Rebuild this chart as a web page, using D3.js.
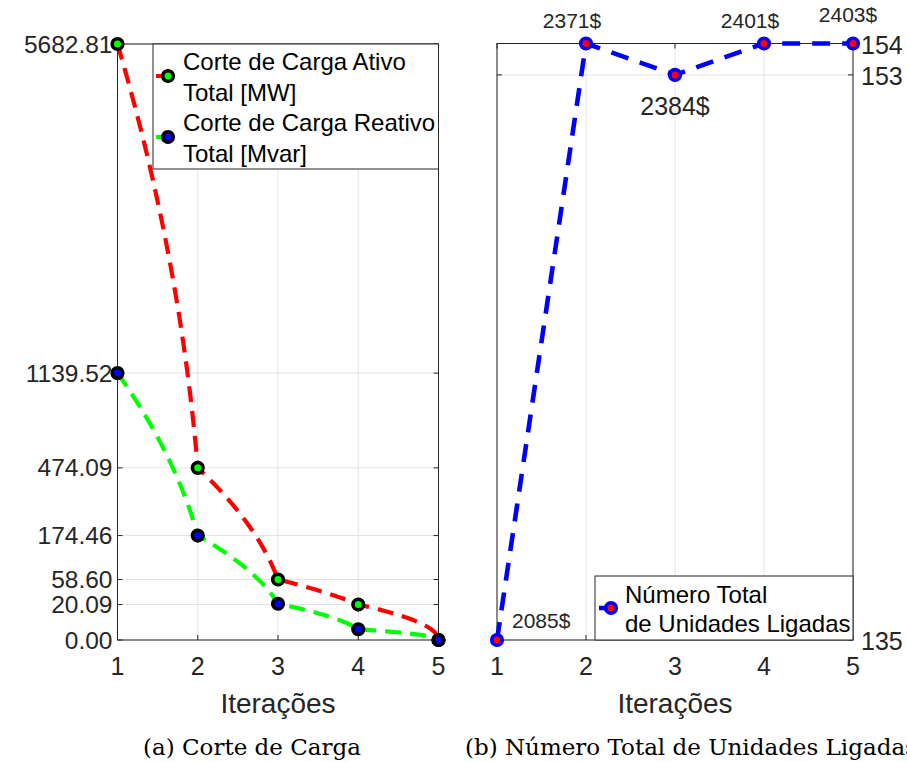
<!DOCTYPE html>
<html>
<head>
<meta charset="utf-8">
<script src="https://cdn.jsdelivr.net/npm/d3@7"></script>
<style>
  html, body { margin: 0; padding: 0; background: #ffffff; }
  svg { display: block; }
  text { font-family: "Liberation Sans", Arial, Helvetica, sans-serif; }
  .caption { font-family: "DejaVu Serif", "Liberation Serif", serif; }
</style>
</head>
<body>
<svg id="chart" width="907" height="762"></svg>
<script>
// Iteration index shared by both panels
const iterations = [1, 2, 3, 4, 5];

// (a) load shedding per iteration
const activeShed = [5682.81, 474.09, 58.60, 20.09, 0.00];     // MW
const reactiveShed = [1139.52, 174.46, 21.0, 1.85, 0.00];     // Mvar
const shedTicks = [0.00, 20.09, 58.60, 174.46, 474.09, 1139.52, 5682.81];

// (b) committed units per iteration and associated cost
const unitsOn = [135, 154, 153, 154, 154];
const costLabels = ["2085$", "2371$", "2384$", "2401$", "2403$"];
const unitTicks = [135, 153, 154];

const svg = d3.select("#chart");
const axisColor = "#262626";
const gridColor = "#e3e3e3";
const tickLen = 5;

// Draw a data-space linear path through a (possibly non-linear) y scale
function sampledLine(xs, ys, x, y, steps) {
  const pts = [];
  for (let i = 0; i < xs.length - 1; i++) {
    for (let k = 0; k <= steps; k++) {
      if (i > 0 && k === 0) continue;
      const t = k / steps;
      const xv = xs[i] + (xs[i + 1] - xs[i]) * t;
      const yv = ys[i] + (ys[i + 1] - ys[i]) * t;
      pts.push([x(xv), y(yv)]);
    }
  }
  return d3.line()(pts);
}

function frame(g, x, y, xTicks, yTicks) {
  const [x0, x1] = x.range();
  const [yb, yt] = y.range();
  // grid
  g.append("g").selectAll("line").data(xTicks).join("line")
    .attr("x1", d => x(d)).attr("x2", d => x(d))
    .attr("y1", yb).attr("y2", yt)
    .attr("stroke", gridColor).attr("stroke-width", 1);
  g.append("g").selectAll("line").data(yTicks).join("line")
    .attr("x1", x0).attr("x2", x1)
    .attr("y1", d => y(d)).attr("y2", d => y(d))
    .attr("stroke", gridColor).attr("stroke-width", 1);
  // inward ticks on all four sides
  const t = g.append("g").attr("stroke", axisColor).attr("stroke-width", 1);
  xTicks.forEach(d => {
    t.append("line").attr("x1", x(d)).attr("x2", x(d)).attr("y1", yb).attr("y2", yb - tickLen);
    t.append("line").attr("x1", x(d)).attr("x2", x(d)).attr("y1", yt).attr("y2", yt + tickLen);
  });
  yTicks.forEach(d => {
    t.append("line").attr("x1", x0).attr("x2", x0 + tickLen).attr("y1", y(d)).attr("y2", y(d));
    t.append("line").attr("x1", x1).attr("x2", x1 - tickLen).attr("y1", y(d)).attr("y2", y(d));
  });
  // box
  g.append("rect")
    .attr("x", x0).attr("y", yt).attr("width", x1 - x0).attr("height", yb - yt)
    .attr("fill", "none").attr("stroke", axisColor).attr("stroke-width", 1);
  // x tick labels
  g.append("g").selectAll("text").data(xTicks).join("text")
    .attr("x", d => x(d)).attr("y", yb + 35)
    .attr("text-anchor", "middle")
    .attr("font-size", 25).attr("fill", axisColor)
    .text(d => d);
  g.append("text")
    .attr("x", (x0 + x1) / 2).attr("y", yb + 73)
    .attr("text-anchor", "middle")
    .attr("font-size", 28).attr("fill", axisColor)
    .text("Iterações");
}

function marker(g, cx, cy, fill, stroke) {
  g.append("circle").attr("cx", cx).attr("cy", cy).attr("r", 5.3)
    .attr("fill", fill).attr("stroke", stroke).attr("stroke-width", 3.6);
}

// ---------- (a) Corte de Carga ----------
{
  const x = d3.scaleLinear().domain([1, 5]).range([117.5, 438.5]);
  const y = d3.scaleSqrt().domain([0, 5682.81]).range([640, 44]);
  const g = svg.append("g");
  frame(g, x, y, iterations, shedTicks);

  g.append("g").selectAll("text").data(shedTicks).join("text")
    .attr("x", x.range()[0] - 5).attr("y", d => y(d) + 8.5)
    .attr("text-anchor", "end")
    .attr("font-size", 24.5).attr("fill", axisColor)
    .text(d => d.toFixed(2));

  g.append("path")
    .attr("d", sampledLine(iterations, activeShed, x, y, 60))
    .attr("fill", "none").attr("stroke", "#ff0000").attr("stroke-width", 4.2)
    .attr("stroke-dasharray", "16,9");
  g.append("path")
    .attr("d", sampledLine(iterations, reactiveShed, x, y, 60))
    .attr("fill", "none").attr("stroke", "#00ff00").attr("stroke-width", 4.2)
    .attr("stroke-dasharray", "16,9");

  iterations.forEach((it, i) => marker(g, x(it), y(activeShed[i]), "#00ff00", "#000000"));
  iterations.forEach((it, i) => marker(g, x(it), y(reactiveShed[i]), "#0000ff", "#000000"));

  // legend
  const lg = g.append("g");
  lg.append("rect").attr("x", 153).attr("y", 44).attr("width", 285.5).attr("height", 125)
    .attr("fill", "#ffffff").attr("stroke", axisColor).attr("stroke-width", 1);
  const entries = [
    { lines: ["Corte de Carga Ativo", "Total [MW]"], color: "#ff0000", fill: "#00ff00", my: 76, by: 70 },
    { lines: ["Corte de Carga Reativo", "Total [Mvar]"], color: "#00ff00", fill: "#0000ff", my: 137, by: 131 }
  ];
  entries.forEach(e => {
    lg.append("line").attr("x1", 156).attr("x2", 168).attr("y1", e.my).attr("y2", e.my)
      .attr("stroke", e.color).attr("stroke-width", 4);
    marker(lg, 168, e.my, e.fill, "#000000");
    e.lines.forEach((s, j) => {
      lg.append("text").attr("x", 183).attr("y", e.by + j * 30.5)
        .attr("font-size", 24).attr("fill", "#000000").text(s);
    });
  });

  svg.append("text").attr("class", "caption")
    .attr("x", 252).attr("y", 755).attr("text-anchor", "middle")
    .attr("font-size", 23).attr("fill", "#000000")
    .text("(a) Corte de Carga");
}

// ---------- (b) Número Total de Unidades Ligadas ----------
{
  const x = d3.scaleLinear().domain([1, 5]).range([497, 853]);
  const y = d3.scaleLinear().domain([135, 154]).range([640, 43.5]);
  const g = svg.append("g");
  frame(g, x, y, iterations, unitTicks);

  g.append("g").selectAll("text").data(unitTicks).join("text")
    .attr("x", x.range()[1] + 8).attr("y", d => y(d) + 10)
    .attr("text-anchor", "start")
    .attr("font-size", 25).attr("fill", axisColor)
    .text(d => d);

  // legend (drawn under the series so the first marker stays visible)
  const lg = g.append("g");
  lg.append("rect").attr("x", 595).attr("y", 576).attr("width", 258).attr("height", 64)
    .attr("fill", "#ffffff").attr("stroke", axisColor).attr("stroke-width", 1);
  lg.append("line").attr("x1", 599).attr("x2", 611).attr("y1", 608).attr("y2", 608)
    .attr("stroke", "#0000ff").attr("stroke-width", 4.5);
  marker(lg, 611, 608, "#ff0000", "#0000ff");
  ["Número Total", "de Unidades Ligadas"].forEach((s, j) => {
    lg.append("text").attr("x", 625).attr("y", 603 + j * 29)
      .attr("font-size", 24).attr("fill", "#000000").text(s);
  });

  g.append("path")
    .attr("d", d3.line()(iterations.map((it, i) => [x(it), y(unitsOn[i])])))
    .attr("fill", "none").attr("stroke", "#0000ff").attr("stroke-width", 4.6)
    .attr("stroke-dasharray", "18,12");
  iterations.forEach((it, i) => marker(g, x(it), y(unitsOn[i]), "#ff0000", "#0000ff"));

  // cost annotations next to each point
  const labelPlace = [
    { dx: 15, dy: -12, anchor: "start", size: 21 },
    { dx: -14, dy: -15.5, anchor: "middle", size: 21 },
    { dx: 0, dy: 40, anchor: "middle", size: 25 },
    { dx: -14, dy: -15.5, anchor: "middle", size: 21 },
    { dx: -5, dy: -21.5, anchor: "middle", size: 21 }
  ];
  g.append("g").selectAll("text").data(costLabels).join("text")
    .attr("x", (d, i) => x(iterations[i]) + labelPlace[i].dx)
    .attr("y", (d, i) => y(unitsOn[i]) + labelPlace[i].dy)
    .attr("text-anchor", (d, i) => labelPlace[i].anchor)
    .attr("font-size", (d, i) => labelPlace[i].size)
    .attr("fill", axisColor)
    .text(d => d);

  svg.append("text").attr("class", "caption")
    .attr("x", 465).attr("y", 755).attr("text-anchor", "start")
    .attr("font-size", 23).attr("fill", "#000000")
    .text("(b) Número Total de Unidades Ligadas");
}
</script>
</body>
</html>
